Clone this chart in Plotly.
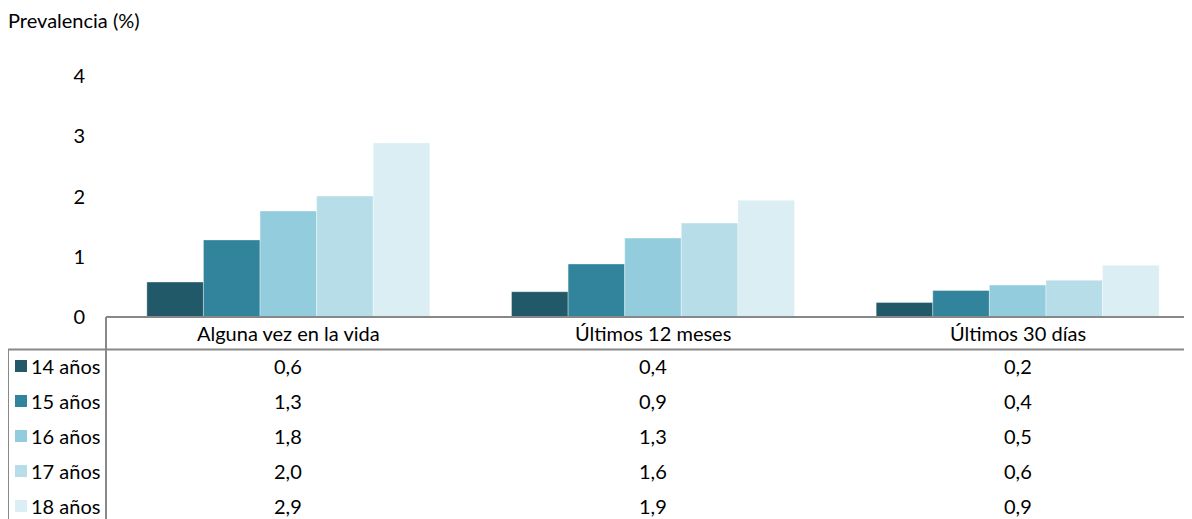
import plotly.graph_objects as go

categories = ["Alguna vez en la vida", "Últimos 12 meses", "Últimos 30 días"]
series_names = ["14 años", "15 años", "16 años", "17 años", "18 años"]
v14 = [0.58, 0.42, 0.24]
v15 = [1.28, 0.88, 0.44]
v16 = [1.76, 1.31, 0.53]
v17 = [2.01, 1.56, 0.61]
v18 = [2.89, 1.94, 0.86]
series_values = [v14, v15, v16, v17, v18]
colors = ["#215968", "#31849B", "#93CDDD", "#B7DEE8", "#DAEEF3"]
y_ticks = [0, 1, 2, 3, 4]
y_title = "Prevalencia (%)"

FONT = "Lato"
FS = 20
OFF = 8  # page body margin
W, H = 1192, 519
ML, MR, MT, MB = 106 - OFF, 0, 46 - OFF, H - (317 - OFF)
PW, PH = W - ML - MR, H - MT - MB

def py(p):  # screen pixel y -> paper y
    return (317 - p) / PH

def px(p):  # screen pixel x -> paper x
    return (p - 106) / PW

fig = go.Figure()
for name, vals, col in zip(series_names, series_values, colors):
    fig.add_trace(go.Bar(x=categories, y=vals, name=name, marker_color=col,
                         marker_line=dict(width=0.6, color="rgba(255,255,255,0.6)"),
                         showlegend=False))

ann = []
shapes = []
tfont = dict(family=FONT, size=FS, color="#000")
# header row: category labels
for c in categories:
    ann.append(dict(x=c, xref="x", y=py(333), yref="paper", text=c, showarrow=False,
                    font=tfont, xanchor="center", yanchor="middle"))
# data rows
row_y = [366, 401, 436, 471, 506]
for i, (name, vals, col) in enumerate(zip(series_names, series_values, colors)):
    yy = py(row_y[i])
    for c, v in zip(categories, vals):
        ann.append(dict(x=c, xref="x", y=yy, yref="paper", text=f"{v:.1f}".replace(".", ","),
                        showarrow=False, font=tfont, xanchor="center", yanchor="middle"))
    ann.append(dict(x=px(29), xref="paper", y=yy, yref="paper", text=name, showarrow=False,
                    font=tfont, xanchor="left", yanchor="middle"))
    shapes.append(dict(type="rect", xref="paper", yref="paper",
                       x0=px(15), x1=px(27), y0=py(row_y[i] + 6), y1=py(row_y[i] - 6),
                       fillcolor=col, line=dict(width=0)))
# y axis title
ann.append(dict(x=px(6), xref="paper", y=py(20), yref="paper", text=y_title, showarrow=False,
                font=tfont, xanchor="left", yanchor="middle"))

line = dict(color="#888888", width=2)
shapes += [
    dict(type="line", xref="paper", yref="paper", x0=px(106), x1=1, y0=py(317), y1=py(317), line=line),
    dict(type="line", xref="paper", yref="paper", x0=px(8), x1=1, y0=py(349.5), y1=py(349.5), line=line),
    dict(type="line", xref="paper", yref="paper", x0=px(106), x1=px(106), y0=py(317), y1=py(530), line=line),
    dict(type="line", xref="paper", yref="paper", x0=px(8), x1=px(8), y0=py(349.5), y1=py(530), line=line),
]

fig.update_layout(
    width=W, height=H,
    margin=dict(l=ML, r=MR, t=MT, b=MB),
    paper_bgcolor="white", plot_bgcolor="white",
    barmode="group", bargap=0.224, bargroupgap=0,
    font=tfont,
    xaxis=dict(showticklabels=False, showgrid=False, zeroline=False, showline=False, ticks=""),
    yaxis=dict(range=[0, 4.5], tickvals=y_ticks, showgrid=False, zeroline=False, showline=False,
               ticks="", ticklabelstandoff=20, tickfont=tfont),
    annotations=ann, shapes=shapes,
)

fig.write_html("out.html")
